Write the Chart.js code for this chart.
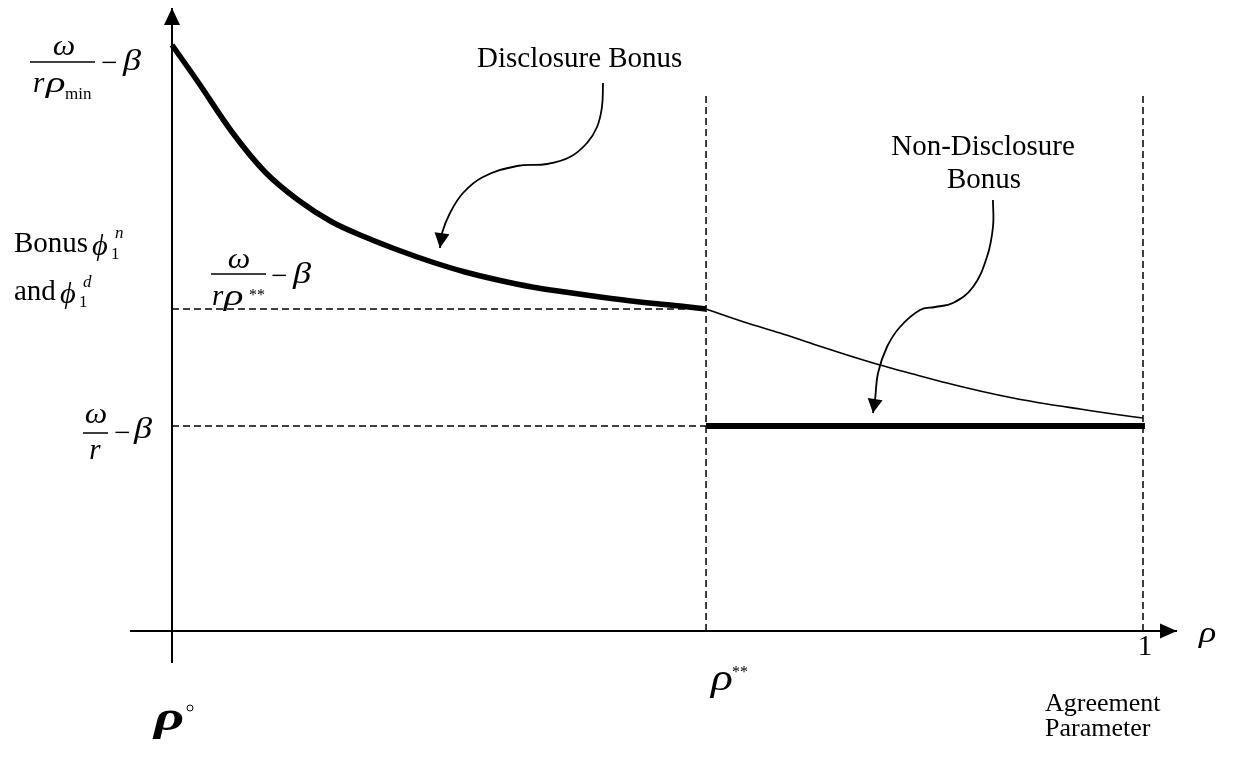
<!DOCTYPE html>
<html>
<head>
<title>Bonus chart</title>
<script src="https://cdn.jsdelivr.net/npm/chart.js@4.4.1/dist/chart.umd.min.js"></script>
<style>body{margin:0;background:#fff;}</style>
</head>
<body>
<canvas id="bonus" width="1233" height="763"></canvas>

<script>
// rho along the horizontal axis: 0 = rho min (vertical axis), 100 = rho of 1
var rhoStar = 55;
var rhoOne = 100;

// bonus levels
var bonusAtStar = 3.22;   // w/(r rho**) - b
var bonusFlat = 2.05;     // w/r - b
var guideTop = 5.36;      // top of the vertical dashed guides

// disclosure bonus (thick curve), rho min .. rho**
var discRho   = [0, 2.68, 6.18, 9.58, 12.98, 16.48, 19.88, 23.27, 26.78, 30.18, 33.57, 37.08, 40.47, 44.08, 48.20, 52.32, 55];
var discBonus = [5.86, 5.49, 4.99, 4.59, 4.31, 4.09, 3.94, 3.81, 3.69, 3.59, 3.51, 3.44, 3.39, 3.34, 3.29, 3.25, 3.22];

// continuation of the curve past rho** (thin)
var tailRho   = [55, 59.22, 62.62, 66.01, 69.52, 72.91, 76.31, 79.81, 83.21, 86.61, 90.11, 93.51, 96.91, 100];
var tailBonus = [3.22, 3.08, 2.98, 2.87, 2.76, 2.66, 2.57, 2.48, 2.40, 2.33, 2.27, 2.22, 2.17, 2.13];

// non-disclosure bonus (flat, thick)
var flatRho   = [55, 100.2];
var flatBonus = [2.05, 2.05];

// axes extents
var xAxisRho = [-4.33, 103.5];
var yAxisBonus = [-0.32, 6.23];

// callout arrows
var discArrowX = [44.39, 44.28, 43.77, 42.74, 40.99, 38.62, 35.53, 32.03, 29.97, 28.63, 27.81, 27.60];
var discArrowY = [5.48, 5.24, 5.04, 4.88, 4.74, 4.67, 4.65, 4.54, 4.38, 4.18, 3.98, 3.83];
var nonArrowX  = [84.55, 84.55, 83.93, 82.49, 80.43, 78.58, 77.03, 74.97, 73.63, 72.71, 72.40, 72.19];
var nonArrowY  = [4.31, 4.04, 3.74, 3.44, 3.28, 3.24, 3.21, 3.04, 2.84, 2.58, 2.31, 2.18];

function pts(xs, ys) {
	var out = [];
	for (var i = 0; i < xs.length; i++) out.push({x: xs[i], y: ys[i]});
	return out;
}

function line(data, width, opts) {
	var ds = {
		data: data,
		showLine: true,
		borderColor: '#000',
		borderWidth: width,
		pointRadius: 0,
		fill: false,
		clip: false,
		tension: 0
	};
	for (var k in opts) ds[k] = opts[k];
	return ds;
}

var dash = [7, 4];
var datasets = [
	line(pts([rhoStar, rhoStar], [0, guideTop]), 1.5, {borderDash: dash}),
	line(pts([rhoOne, rhoOne], [0, guideTop]), 1.5, {borderDash: dash}),
	line(pts([0, rhoStar], [bonusAtStar, bonusAtStar]), 1.5, {borderDash: dash}),
	line(pts([0, rhoStar], [bonusFlat, bonusFlat]), 1.5, {borderDash: dash}),
	line(pts(xAxisRho, [0, 0]), 2, {arrow: [17, 15]}),
	line(pts([0, 0], yAxisBonus), 2, {arrow: [17, 16]}),
	line(pts(tailRho, tailBonus), 1.6, {cubicInterpolationMode: 'monotone'}),
	line(pts(discRho, discBonus), 5.5, {cubicInterpolationMode: 'monotone', borderCapStyle: 'butt'}),
	line(pts(flatRho, flatBonus), 6, {borderCapStyle: 'butt'}),
	line(pts(discArrowX, discArrowY), 1.8, {tension: 0.4, arrow: [15, 15]}),
	line(pts(nonArrowX, nonArrowY), 1.8, {tension: 0.4, arrow: [14, 15]})
];

var SERIF = '"Liberation Serif", "DejaVu Serif", serif';

var sketch = {
	id: 'sketch',
	afterDatasetsDraw: function(chart) {
		var ctx = chart.ctx;
		ctx.save();
		ctx.fillStyle = '#000';
		ctx.strokeStyle = '#000';

		// arrowheads at the end of flagged datasets
		chart.data.datasets.forEach(function(ds, i) {
			if (!ds.arrow) return;
			var el = chart.getDatasetMeta(i).data;
			var a = el[el.length - 2], b = el[el.length - 1];
			var dx = b.x - a.x, dy = b.y - a.y, d = Math.sqrt(dx * dx + dy * dy);
			dx /= d; dy /= d;
			var len = ds.arrow[0], w = ds.arrow[1] / 2;
			var bx = b.x - dx * len, by = b.y - dy * len;
			ctx.beginPath();
			ctx.moveTo(b.x, b.y);
			ctx.lineTo(bx - dy * w, by + dx * w);
			ctx.lineTo(bx + dy * w, by - dx * w);
			ctx.closePath();
			ctx.fill();
		});

		function t(s, x, y, font, align) {
			ctx.font = font;
			ctx.textAlign = align || 'left';
			ctx.textBaseline = 'alphabetic';
			ctx.fillText(s, x, y);
		}
		// greek glyphs, stretched a little to look like the Symbol font
		function g(s, x, y, font, sx, align) {
			ctx.save();
			ctx.translate(x, y);
			ctx.scale(sx, 1);
			t(s, 0, 0, font, align);
			ctx.restore();
		}
		function bar(x1, x2, y) {
			ctx.beginPath();
			ctx.lineWidth = 1.5;
			ctx.moveTo(x1, y);
			ctx.lineTo(x2, y);
			ctx.stroke();
		}
		var it = 'italic 29px ' + SERIF;
		var up = '29px ' + SERIF;

		// w / (r rho_min) - b
		g('\u03c9', 64, 55, it, 1.1, 'center');
		bar(30, 95, 62);
		t('r', 33, 92, it);
		g('\u03c1', 46, 92, it, 1.4);
		t('min', 65, 99, '17px ' + SERIF);
		t('\u2212', 101, 72, up);
		g('\u03b2', 123, 70, it, 1.25);

		// w / (r rho**) - b
		g('\u03c9', 239, 268, it, 1.1, 'center');
		bar(211, 266, 274);
		t('r', 212, 305, it);
		g('\u03c1', 224, 305, it, 1.4);
		t('**', 249, 300, '16px ' + SERIF);
		t('\u2212', 271, 285, up);
		g('\u03b2', 293, 283, it, 1.25);

		// w / r - b
		g('\u03c9', 96, 423, it, 1.1, 'center');
		bar(83, 108, 433);
		t('r', 95, 459, it, 'center');
		t('\u2212', 114, 442, up);
		g('\u03b2', 134, 438, it, 1.25);

		// vertical axis title
		t('Bonus', 14, 252, up);
		g('\u03d5', 92, 255, it, 1.05);
		t('1', 111, 259, '17px ' + SERIF);
		t('n', 115, 238, 'italic 17px ' + SERIF);
		t('and', 14, 300, up);
		g('\u03d5', 60, 303, it, 1.05);
		t('1', 79, 307, '17px ' + SERIF);
		t('d', 83, 287, 'italic 17px ' + SERIF);

		// callout texts
		t('Disclosure Bonus', 477, 67, up);
		t('Non-Disclosure', 983, 155, up, 'center');
		t('Bonus', 984, 188, up, 'center');

		// horizontal axis labels
		g('\u03c1', 154, 730, 'bold italic 42px ' + SERIF, 1.4);
		ctx.beginPath();
		ctx.lineWidth = 1;
		ctx.arc(190, 708, 3, 0, Math.PI * 2);
		ctx.stroke();
		g('\u03c1', 711, 690, 'italic 38px ' + SERIF, 1.2);
		t('**', 732, 677, '16px ' + SERIF);
		t('1', 1145, 655, up, 'center');
		g('\u03c1', 1199, 642, 'italic 30px ' + SERIF, 1.2);
		t('Agreement', 1045, 711, '26px ' + SERIF);
		t('Parameter', 1045, 736, '26px ' + SERIF);

		ctx.restore();
	}
};

var ctx = document.getElementById('bonus').getContext('2d');
var chart = new Chart(ctx, {
	type: 'scatter',
	data: {datasets: datasets},
	options: {
		responsive: false,
		animation: false,
		layout: {padding: {left: 123.45, right: 41.45, top: 1, bottom: 82}},
		plugins: {legend: {display: false}, tooltip: {enabled: false}},
		scales: {
			x: {type: 'linear', min: -5, max: 105, display: false},
			y: {type: 'linear', min: -0.5, max: 6.3, display: false}
		}
	},
	plugins: [sketch]
});
</script>
</body>
</html>
